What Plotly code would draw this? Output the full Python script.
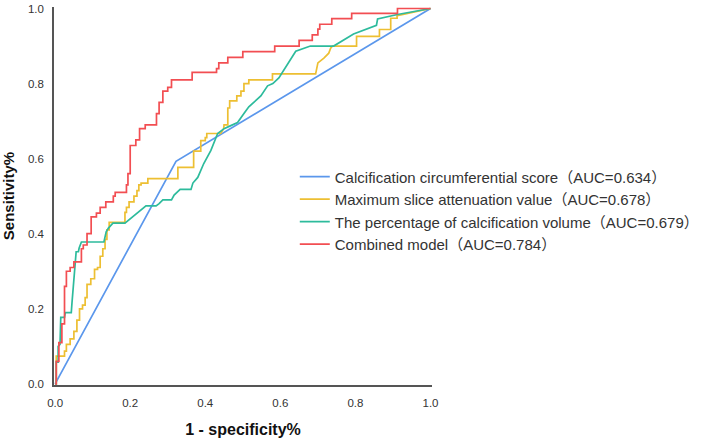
import plotly.graph_objects as go

# Calcification circumferential score (AUC=0.634)
ccs_fpr = [0, 0.322, 1]
ccs_sens = [0, 0.593, 1]

# Maximum slice attenuation value (AUC=0.678)
msa_fpr = [0, 0.003, 0.003, 0.025, 0.025, 0.03, 0.03, 0.04, 0.04, 0.05, 0.05, 0.058, 0.058, 0.065, 0.065,
           0.073, 0.073, 0.08, 0.08, 0.085, 0.085, 0.095, 0.095, 0.105, 0.105, 0.113, 0.113, 0.12, 0.12,
           0.127, 0.127, 0.133, 0.133, 0.138, 0.138, 0.144, 0.144, 0.186, 0.186, 0.19, 0.19, 0.197, 0.197,
           0.21, 0.21, 0.218, 0.218, 0.223, 0.223, 0.229, 0.229, 0.247, 0.247, 0.327, 0.327, 0.369, 0.369,
           0.388, 0.388, 0.40, 0.40, 0.404, 0.404, 0.441, 0.449, 0.45, 0.46, 0.46, 0.465, 0.465, 0.484,
           0.484, 0.495, 0.495, 0.503, 0.503, 0.516, 0.516, 0.579, 0.579, 0.694, 0.70, 0.716, 0.729,
           0.734, 0.739, 0.803, 0.803, 0.864, 0.864, 0.894, 0.894, 0.911, 0.911, 0.93, 1]
msa_sens = [0, 0, 0.074, 0.074, 0.087, 0.087, 0.105, 0.105, 0.12, 0.12, 0.14, 0.14, 0.17, 0.17, 0.20,
            0.20, 0.21, 0.21, 0.23, 0.23, 0.265, 0.265, 0.28, 0.28, 0.305, 0.305, 0.31, 0.31, 0.34,
            0.34, 0.36, 0.36, 0.385, 0.385, 0.41, 0.41, 0.43, 0.43, 0.457, 0.457, 0.47, 0.47, 0.485,
            0.485, 0.50, 0.50, 0.515, 0.515, 0.53, 0.53, 0.535, 0.535, 0.547, 0.547, 0.577, 0.577, 0.62,
            0.62, 0.648, 0.648, 0.656, 0.656, 0.667, 0.667, 0.68, 0.69, 0.69, 0.735, 0.735, 0.754, 0.754,
            0.767, 0.767, 0.78, 0.78, 0.80, 0.80, 0.81, 0.81, 0.826, 0.826, 0.855, 0.868, 0.881,
            0.894, 0.90, 0.90, 0.926, 0.926, 0.944, 0.944, 0.974, 0.974, 0.981, 0.985, 1]

# The percentage of calcification volume (AUC=0.679)
pcv_fpr = [0, 0.003, 0.003, 0.008, 0.008, 0.013, 0.015, 0.025, 0.027, 0.043, 0.045, 0.047, 0.05, 0.052,
           0.056, 0.062, 0.064, 0.07, 0.13, 0.136, 0.142, 0.154, 0.186, 0.242, 0.269, 0.277, 0.287, 0.31,
           0.317, 0.333, 0.362, 0.367, 0.38, 0.396, 0.415, 0.433, 0.45, 0.468, 0.486, 0.503, 0.516, 0.548,
           0.566, 0.58, 0.596, 0.641, 0.68, 0.742, 0.795, 0.856, 0.859, 0.912, 1]
pcv_sens = [0, 0, 0.058, 0.058, 0.10, 0.105, 0.177, 0.177, 0.19, 0.19, 0.217, 0.246, 0.27, 0.296,
            0.352, 0.352, 0.362, 0.378, 0.378, 0.405, 0.415, 0.428, 0.428, 0.474, 0.474, 0.48, 0.49, 0.49,
            0.503, 0.518, 0.518, 0.535, 0.55, 0.587, 0.622, 0.667, 0.68, 0.688, 0.696, 0.72, 0.738, 0.767,
            0.794, 0.80, 0.815, 0.886, 0.90, 0.90, 0.932, 0.955, 0.972, 0.984, 1]

# Combined model (AUC=0.784)
cmb_fpr = [0, 0.003, 0.003, 0.01, 0.01, 0.018, 0.018, 0.025, 0.025, 0.03, 0.03, 0.04, 0.04, 0.05, 0.05,
           0.07, 0.07, 0.075, 0.075, 0.085, 0.085, 0.096, 0.096, 0.11, 0.11, 0.12, 0.12, 0.135, 0.135,
           0.155, 0.155, 0.16, 0.16, 0.19, 0.19, 0.194, 0.194, 0.20, 0.20, 0.215, 0.215, 0.225, 0.225,
           0.24, 0.24, 0.27, 0.27, 0.277, 0.277, 0.287, 0.287, 0.30, 0.30, 0.31, 0.31, 0.365, 0.365,
           0.43, 0.43, 0.436, 0.436, 0.46, 0.46, 0.50, 0.50, 0.585, 0.585, 0.65, 0.65, 0.685, 0.685,
           0.70, 0.70, 0.705, 0.705, 0.737, 0.737, 0.79, 0.79, 0.912, 0.912, 1]
cmb_sens = [0, 0, 0.06, 0.06, 0.11, 0.11, 0.16, 0.16, 0.26, 0.26, 0.30, 0.30, 0.31, 0.31, 0.325,
            0.325, 0.36, 0.36, 0.37, 0.37, 0.40, 0.40, 0.445, 0.445, 0.455, 0.455, 0.47, 0.47, 0.485,
            0.485, 0.50, 0.50, 0.51, 0.51, 0.53, 0.53, 0.56, 0.56, 0.635, 0.635, 0.65, 0.65, 0.68,
            0.68, 0.69, 0.69, 0.72, 0.72, 0.75, 0.75, 0.78, 0.78, 0.79, 0.79, 0.81, 0.81, 0.83,
            0.83, 0.84, 0.84, 0.855, 0.855, 0.87, 0.87, 0.885, 0.885, 0.90, 0.90, 0.915, 0.915, 0.93,
            0.93, 0.945, 0.945, 0.958, 0.958, 0.973, 0.973, 0.987, 0.987, 1.0, 1]

series_names = [
    "Calcification circumferential score（AUC=0.634）",
    "Maximum slice attenuation value（AUC=0.678）",
    "The percentage of calcification volume（AUC=0.679）",
    "Combined model（AUC=0.784）",
]
series_colors = ["#5B97EC", "#EDBF32", "#2DBB9C", "#F24E52"]
tick_vals = [0, 0.2, 0.4, 0.6, 0.8, 1.0]

fig = go.Figure()
for fx, sy, name, col in zip([ccs_fpr, msa_fpr, pcv_fpr, cmb_fpr],
                             [ccs_sens, msa_sens, pcv_sens, cmb_sens],
                             series_names, series_colors):
    fig.add_trace(go.Scatter(x=fx, y=sy, mode="lines", name=name,
                             line=dict(color=col, width=1.7)))

axis_common = dict(
    showgrid=False, zeroline=False, showline=True, linecolor="#555555", linewidth=1.5,
    ticks="", tickvals=tick_vals, tickformat=".1f",
    tickfont=dict(family="Liberation Sans, Arial", size=11.5, color="#333333"),
    ticklabelstandoff=6,
)

fig.update_layout(
    width=708, height=439,
    margin=dict(l=54, r=276, t=7, b=54, autoexpand=False),
    paper_bgcolor="white", plot_bgcolor="white",
    font=dict(family="Liberation Sans, Arial, Noto Sans CJK SC"),
    xaxis=dict(range=[-0.003, 1.004], title=dict(text="<b>1 - specificity%</b>",
               font=dict(size=16, color="#111111"), standoff=16), **axis_common),
    yaxis=dict(range=[-0.003, 1.004], title=dict(text="<b>Sensitivity%</b>",
               font=dict(size=15, color="#111111"), standoff=13), **axis_common),
    legend=dict(x=0.637, y=0.594, xanchor="left", yanchor="top",
                font=dict(family="Liberation Sans, Arial, Noto Sans CJK SC", size=15, color="#333333"),
                bgcolor="rgba(0,0,0,0)", borderwidth=0, tracegroupgap=0),
    showlegend=True,
)

fig.write_html("out.html")
